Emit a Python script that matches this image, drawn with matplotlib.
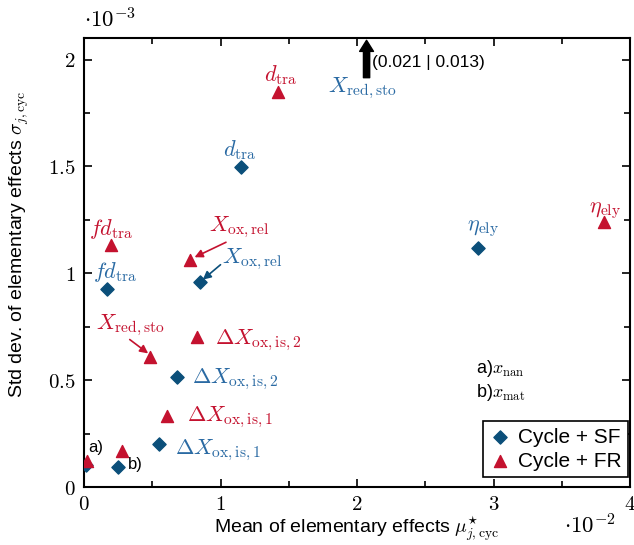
import numpy as np
import matplotlib
matplotlib.use("Agg")
import matplotlib.pyplot as plt
from matplotlib.ticker import MultipleLocator, FuncFormatter

plt.rcParams["mathtext.fontset"] = "cm"
plt.rcParams["font.family"] = ["Liberation Sans", "DejaVu Sans"]

# mu* in 1e-2, sigma in 1e-3
sf_names = ["x_nan", "x_mat", "dX_ox_is_1", "dX_ox_is_2", "fd_tra", "X_ox_rel", "d_tra", "eta_ely"]
sf_mu = [0.015, 0.25, 0.55, 0.68, 0.17, 0.85, 1.15, 2.89]
sf_sigma = [0.103, 0.093, 0.20, 0.514, 0.925, 0.958, 1.495, 1.12]

fr_names = ["x_nan", "x_mat", "dX_ox_is_1", "dX_ox_is_2", "X_red_sto", "X_ox_rel", "fd_tra", "d_tra", "eta_ely"]
fr_mu = [0.02, 0.28, 0.61, 0.83, 0.48, 0.78, 0.20, 1.42, 3.81]
fr_sigma = [0.12, 0.17, 0.33, 0.70, 0.61, 1.06, 1.13, 1.846, 1.238]

# off-scale point (X_red,sto, Cycle + SF)
off_mu, off_sigma = 0.021, 0.013

BLUE = "#0b4f7a"
BLUE_TXT = "#2a6aa3"
RED = "#c4122f"

fig = plt.figure(figsize=(6.34, 5.45), dpi=100)
ax = fig.add_axes([0.1325, 0.1064, 0.8612, 0.8236])

ax.scatter(sf_mu, sf_sigma, marker="D", s=45, color=BLUE, zorder=3, label="Cycle + SF")
ax.scatter(fr_mu, fr_sigma, marker="^", s=75, color=RED, zorder=3, label="Cycle + FR")

ax.set_xlim(0, 4)
ax.set_ylim(0, 2.1)
ax.xaxis.set_major_locator(MultipleLocator(1))
ax.xaxis.set_minor_locator(MultipleLocator(0.5))
ax.yaxis.set_major_locator(MultipleLocator(0.5))
ax.yaxis.set_minor_locator(MultipleLocator(0.25))
fmt = FuncFormatter(lambda v, _: f"${v:g}$")
ax.xaxis.set_major_formatter(fmt)
ax.yaxis.set_major_formatter(fmt)
ax.tick_params(which="both", direction="in", top=True, right=True, width=1.2)
ax.tick_params(which="major", length=6, labelsize=15, pad=6)
ax.tick_params(which="minor", length=4)
for s in ax.spines.values():
    s.set_linewidth(1.5)

ax.set_xlabel(r"Mean of elementary effects $\mu^{\star}_{j,\mathrm{cyc}}$", fontsize=14, labelpad=0)
ax.set_ylabel(r"Std dev. of elementary effects $\sigma_{j,\mathrm{cyc}}$", fontsize=14)
ax.yaxis.set_label_coords(-0.097, 0.54)

fig.text(0.133, 0.962, r"$\cdot10^{-3}$", fontsize=16.5, ha="left", va="center")
fig.text(0.972, 0.035, r"$\cdot10^{-2}$", fontsize=16.5, ha="right", va="center")

fs = 16
arr = dict(arrowstyle="-|>", lw=1.2, shrinkA=0, shrinkB=0, mutation_scale=12)
# red labels
ax.text(1.44, 1.925, r"$d_{\mathrm{tra}}$", color=RED, fontsize=fs, ha="center", va="center")
ax.text(0.20, 1.205, r"$fd_{\mathrm{tra}}$", color=RED, fontsize=fs, ha="center", va="center")
ax.text(1.14, 1.215, r"$X_{\mathrm{ox,rel}}$", color=RED, fontsize=fs, ha="center", va="center")
ax.annotate("", xy=(0.81, 1.075), xytext=(1.04, 1.145), arrowprops=dict(arr, color=RED))
ax.text(0.34, 0.755, r"$X_{\mathrm{red,sto}}$", color=RED, fontsize=fs, ha="center", va="center")
ax.annotate("", xy=(0.47, 0.625), xytext=(0.335, 0.69), arrowprops=dict(arr, color=RED))
ax.text(0.96, 0.687, r"$\Delta X_{\mathrm{ox,is,2}}$", color=RED, fontsize=fs, ha="left", va="center")
ax.text(0.755, 0.327, r"$\Delta X_{\mathrm{ox,is,1}}$", color=RED, fontsize=fs, ha="left", va="center")
ax.text(3.82, 1.295, r"$\eta_{\mathrm{ely}}$", color=RED, fontsize=fs, ha="center", va="center")

# blue labels
ax.text(1.14, 1.575, r"$d_{\mathrm{tra}}$", color=BLUE_TXT, fontsize=fs, ha="center", va="center")
ax.text(0.23, 1.005, r"$fd_{\mathrm{tra}}$", color=BLUE_TXT, fontsize=fs, ha="center", va="center")
ax.text(1.23, 1.065, r"$X_{\mathrm{ox,rel}}$", color=BLUE_TXT, fontsize=fs, ha="center", va="center")
ax.annotate("", xy=(0.87, 0.97), xytext=(1.0, 1.04), arrowprops=dict(arr, color=BLUE))
ax.text(0.79, 0.505, r"$\Delta X_{\mathrm{ox,is,2}}$", color=BLUE_TXT, fontsize=fs, ha="left", va="center")
ax.text(0.667, 0.173, r"$\Delta X_{\mathrm{ox,is,1}}$", color=BLUE_TXT, fontsize=fs, ha="left", va="center")
ax.text(2.92, 1.21, r"$\eta_{\mathrm{ely}}$", color=BLUE_TXT, fontsize=fs, ha="center", va="center")
ax.text(2.04, 1.865, r"$X_{\mathrm{red,sto}}$", color=BLUE_TXT, fontsize=fs, ha="center", va="center")

# off-scale arrow
ax.annotate("", xy=(2.07, 2.09), xytext=(2.07, 1.915),
            arrowprops=dict(arrowstyle="simple,head_width=1.0,head_length=0.8,tail_width=0.45",
                            color="black", shrinkA=0, shrinkB=0))
ax.text(2.11, 1.985, f"({off_mu} | {off_sigma})", fontsize=12.5, ha="left", va="center")

# small notes
ax.text(0.03, 0.185, "a)", fontsize=12, ha="left", va="center")
ax.text(0.32, 0.103, "b)", fontsize=12, ha="left", va="center")
ax.text(2.87, 0.556, r"a)$x_{\mathrm{nan}}$", fontsize=13, ha="left", va="center")
ax.text(2.87, 0.444, r"b)$x_{\mathrm{mat}}$", fontsize=13, ha="left", va="center")

leg = ax.legend(loc="lower right", bbox_to_anchor=(0.996, 0.022), fontsize=15,
                fancybox=False, framealpha=1, edgecolor="black",
                handletextpad=0.3, borderpad=0.3, handlelength=1.1,
                labelspacing=0.25, borderaxespad=0)
leg.get_frame().set_linewidth(1.2)

fig.savefig("out.png", dpi=100)
